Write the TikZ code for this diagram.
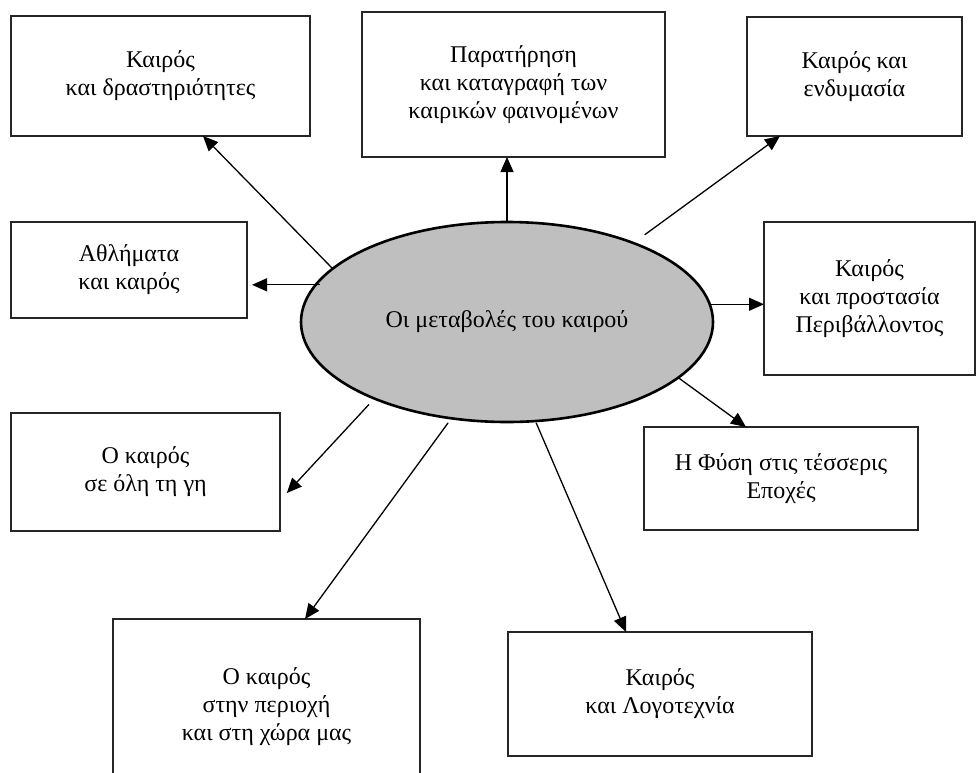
\documentclass[tikz,border=0pt]{standalone}
\usepackage{fontspec}
\setmainfont{Liberation Serif}
\usetikzlibrary{arrows.meta,shapes.geometric}
\tikzset{
  boxnode/.style={draw=black!85, line width=1.3pt, rectangle, inner sep=0pt, outer sep=0pt,
    align=center, font=\fontsize{24}{28}\selectfont},
  hub/.style={draw=black, line width=2.6pt, ellipse, fill=black!25, inner sep=0pt, outer sep=0pt,
    minimum width=412pt, minimum height=200pt, font=\fontsize{24}{28}\selectfont},
  arr/.style={line width=1.3pt, -{Triangle[length=15pt,width=13pt]}},
}
\begin{document}
\begin{tikzpicture}[x=1pt,y=-1pt]
\useasboundingbox (0,0) rectangle (979,773);
\clip (0,0) rectangle (979,773);
\fill[white] (0,0) rectangle (979,773);

\node[hub] (e) at (507,322) {Οι μεταβολές του καιρού};

\node[boxnode, minimum width=299pt, minimum height=120pt] (b1) at (160.5,76) {Καιρός\\και δραστηριότητες};
\node[boxnode, minimum width=303pt, minimum height=145pt] (b2) at (513.5,84.5) {Παρατήρηση\\και καταγραφή των\\καιρικών φαινομένων};
\node[boxnode, minimum width=215pt, minimum height=119pt] (b3) at (854.5,76.5) {Καιρός και\\ενδυμασία};
\node[boxnode, minimum width=236pt, minimum height=96pt] (b4) at (129,270) {Αθλήματα\\και καιρός};
\node[boxnode, minimum width=211pt, minimum height=153pt] (b5) at (869.5,298.5) {Καιρός\\και προστασία\\Περιβάλλοντος};
\node[boxnode, minimum width=269pt, minimum height=118pt] (b6) at (145.5,472) {Ο καιρός\\σε όλη τη γη};
\node[boxnode, minimum width=274pt, minimum height=103pt] (b7) at (781,478.5) {Η Φύση στις τέσσερις\\Εποχές};
\node[boxnode, minimum width=307pt, minimum height=176pt] (b8) at (266.5,707) {Ο καιρός\\στην περιοχή\\και στη χώρα μας};
\node[boxnode, minimum width=304pt, minimum height=124pt] (b9) at (660,694) {Καιρός\\και Λογοτεχνία};

\draw[arr] (e.163.2) -- ([xshift=42.5pt]b1.south);
\draw[arr] (e.north) -- (e.north |- b2.south);
\draw[arr, shorten <=14pt] (e.32.7) -- ([xshift=-74.5pt]b3.south);
\draw[arr, shorten <=-4pt, shorten >=5pt] (e.169.1) -- (e.169.1 -| b4.east);
\draw[arr] (e.5.7) -- (e.5.7 -| b5.west);
\draw[arr, shorten <=8pt, shorten >=10pt] (e.210.4) -- ([yshift=-28.4pt]b6.east);
\draw[arr] (e.342.6) -- ([xshift=-35pt]b7.north);
\draw[arr, shorten <=5.6pt] (e.240.9) -- ([xshift=38.5pt]b8.north);
\draw[arr, shorten <=2pt] (e.286.4) -- ([xshift=-34pt]b9.north);
\end{tikzpicture}
\end{document}
